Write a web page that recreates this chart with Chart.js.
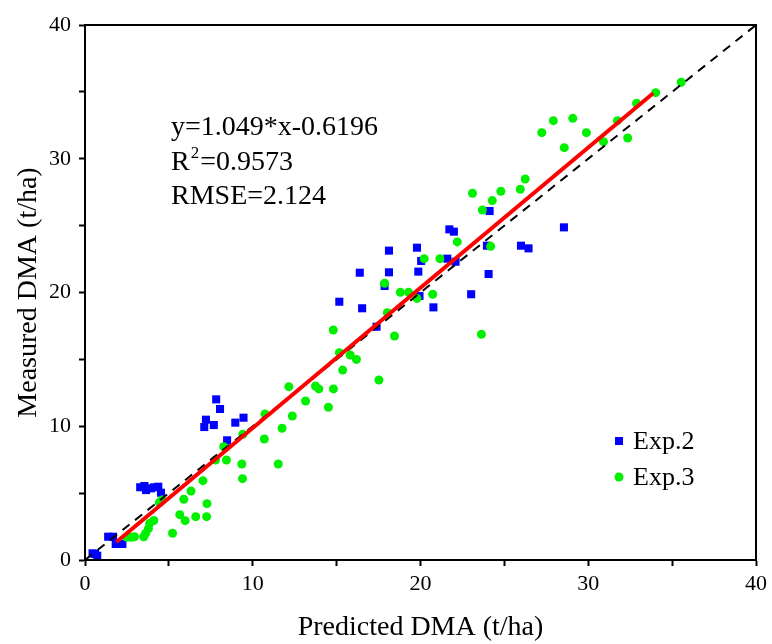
<!DOCTYPE html>
<html><head><meta charset="utf-8">
<script src="https://cdn.jsdelivr.net/npm/chart.js@4.4.0/dist/chart.umd.min.js"></script>
<style>html,body{margin:0;padding:0;background:#fff}</style>
</head><body>
<canvas id="c" width="772" height="644"></canvas>
<script>
// ---- data ----
const exp2X = [0.45,0.73,0.6, 1.38,1.67,1.83,2.23, 3.29,3.54,3.64,3.94,4.13,4.37,4.53,
  7.11,7.21,7.68,7.82,8.05,8.47,8.96,9.45,
  15.16,16.38,16.52,17.38,17.86,18.12,18.12, 19.79,19.87,19.94,20.04,20.77,
  21.6,21.72,21.99,22.09,23.02, 23.96,24.06,24.12,25.99,26.44,28.55];
const exp2Y = [0.5,0.32,0.45, 1.74,1.74,1.2,1.2, 5.44,5.53,5.23,5.36,5.44,5.48,5.03,
  9.94,10.49,10.09,12.01,11.29,8.95,10.27,10.64,
  19.31,21.48,18.82,17.44,20.49,23.13,21.51, 23.35,21.56,19.74,22.36,18.89,
  22.53,24.72,24.55,22.3,19.87, 23.5,21.38,26.09,23.5,23.3,24.87];
const exp3X = [2.5,2.76,2.95,3.5,3.62,3.78,3.86,4.1,
  4.43,4.59,5.22,5.65,5.89,5.97,6.32,6.6,
  7.03,7.25,7.27,7.78,8.27,8.43,9.35,9.39,9.41,
  10.69,10.73,11.52,11.75,12.15,12.36,13.15,13.74,13.94,14.51,14.8,14.81,
  15.16,15.36,15.81,16.18,17.52,17.86,18.02,18.45,18.8,19.29,19.79,20.22,20.73,21.16,22.19,
  23.1,23.63,23.69,24.18,24.28,24.79,25.95,26.24,27.23,27.92,28.57,29.08,29.89,30.91,31.74,32.35,32.88,34.02,35.54];
const exp3Y = [1.7,1.7,1.74,1.74,2.0,2.35,2.75,2.95,
  4.29,4.49,2.0,3.39,4.54,2.94,5.16,3.24,
  5.93,3.24,4.21,7.48,8.47,7.48,7.18,6.08,9.4,
  9.05,10.92,7.18,9.85,12.96,10.77,11.89,13.01,12.79,11.42,17.2,12.79,
  15.5,14.2,15.33,15.0,13.46,20.69,18.49,16.75,20.01,20.01,19.56,22.53,19.87,22.53,23.78,
  27.42,16.87,26.17,23.45,26.87,27.57,27.72,28.49,31.95,32.85,30.83,33.02,31.95,31.28,32.85,31.55,34.15,34.94,35.72];
const fitX = [1.87, 33.87];
const fitY = [1.35, 34.9];
const oneX = [0, 40];
const oneY = [0, 40];
const seriesNames = ['Exp.2', 'Exp.3'];
const statLines = ['y=1.049*x-0.6196', 'R', '2', '=0.9573', 'RMSE=2.124'];
const xTitle = 'Predicted DMA (t/ha)';
const yTitle = 'Measured DMA (t/ha)';

const FONT = '"Liberation Serif","Times New Roman",serif';
const pts = (xs, ys) => xs.map((x, i) => ({x, y: ys[i]}));

const extras = {
  id: 'extras',
  afterDraw(chart) {
    const {ctx, chartArea: a} = chart;
    ctx.save();
    // frame
    ctx.strokeStyle = '#000'; ctx.lineWidth = 2;
    ctx.strokeRect(a.left, a.top, a.right - a.left, a.bottom - a.top);
    // statistics text
    ctx.fillStyle = '#000';
    ctx.textBaseline = 'alphabetic';
    ctx.textAlign = 'left';
    ctx.font = '28px ' + FONT;
    const tx = 171;
    ctx.fillText(statLines[0], tx, 135);
    ctx.fillText(statLines[1], tx, 170);
    let w = ctx.measureText(statLines[1]).width;
    ctx.font = '17px ' + FONT;
    ctx.fillText(statLines[2], tx + w + 1, 158);
    const w2 = ctx.measureText(statLines[2]).width;
    ctx.font = '28px ' + FONT;
    ctx.fillText(statLines[3], tx + w + w2 + 2, 170);
    ctx.fillText(statLines[4], tx, 204);
    // legend
    const ds = chart.data.datasets;
    const lx = 619;
    const rows = [441, 477];
    [0, 1].forEach(i => {
      const d = ds[i];
      ctx.fillStyle = d.backgroundColor;
      if (d.pointStyle === 'rect') {
        ctx.fillRect(lx - 4, rows[i] - 4, 8, 8);
      } else {
        ctx.beginPath(); ctx.arc(lx, rows[i], 4.5, 0, Math.PI * 2); ctx.fill();
      }
      ctx.fillStyle = '#000';
      ctx.font = '26px ' + FONT;
      ctx.textBaseline = 'middle';
      ctx.fillText(seriesNames[i], lx + 14, rows[i] + 1);
    });
    ctx.restore();
  }
};

const axisCommon = {
  type: 'linear', min: 0, max: 40,
  border: {display: true, color: '#000', width: 2},
  grid: {display: true, drawOnChartArea: false, drawTicks: true, tickLength: 6, tickWidth: 2, tickColor: '#000', color: '#000'},
};

new Chart(document.getElementById('c'), {
  type: 'scatter',
  data: {
    datasets: [
      {label: seriesNames[0], data: pts(exp2X, exp2Y), pointStyle: 'rect', pointRadius: 5.7, pointHoverRadius: 5.7,
       backgroundColor: '#0000FF', borderColor: '#0000FF', borderWidth: 0, order: 3},
      {label: seriesNames[1], data: pts(exp3X, exp3Y), pointStyle: 'circle', pointRadius: 4.5, pointHoverRadius: 4.5,
       backgroundColor: '#00F000', borderColor: '#00F000', borderWidth: 0, order: 2},
      {label: '1:1', data: pts(oneX, oneY), type: 'line', showLine: true, pointRadius: 0,
       borderColor: '#000', borderWidth: 2, borderDash: [9, 7], fill: false, order: 1},
      {label: 'fit', data: pts(fitX, fitY), type: 'line', showLine: true, pointRadius: 0,
       borderColor: '#FF0000', borderWidth: 4, fill: false, order: 0}
    ]
  },
  options: {
    responsive: false, animation: false,
    layout: {padding: {left: 0, right: 10, top: 25, bottom: 0}},
    plugins: {legend: {display: false}, tooltip: {enabled: false}},
    scales: {
      x: Object.assign({}, axisCommon, {
        position: 'bottom',
        ticks: {stepSize: 5, autoSkip: false, maxRotation: 0, padding: 5, color: '#000',
          font: {family: FONT, size: 22}, callback: v => (v % 10 === 0 ? String(v) : '')},
        title: {display: true, text: xTitle, color: '#000', font: {family: FONT, size: 28}, padding: {top: 2, bottom: 0}},
        afterFit: s => { s.height = 84; }
      }),
      y: Object.assign({}, axisCommon, {
        position: 'left',
        ticks: {stepSize: 5, autoSkip: false, padding: 8, color: '#000',
          font: {family: FONT, size: 22}, callback: v => (v % 10 === 0 ? String(v) : '')},
        title: {display: true, text: yTitle, color: '#000', font: {family: FONT, size: 28}, padding: {top: 12, bottom: 0}},
        afterFit: s => { s.width = 85; }
      })
    }
  },
  plugins: [extras]
});
</script>
</body></html>
